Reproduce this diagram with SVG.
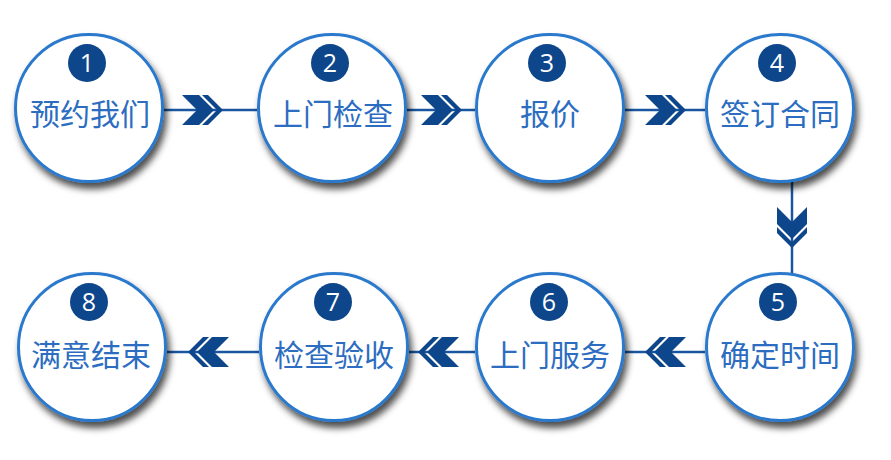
<svg xmlns="http://www.w3.org/2000/svg" xmlns:xlink="http://www.w3.org/1999/xlink" width="891" height="460" viewBox="0 0 891 460">
  <style>
    .ring { fill: #ffffff; stroke: #2a79cc; stroke-width: 3; filter: url(#shadow); }
    .badge { fill: #0d468b; }
    .num { fill: #ffffff; font-family: "Open Sans", "Liberation Sans", sans-serif; font-size: 25px; text-anchor: middle; }
    .label { fill: #2c6dc1; font-family: "Noto Sans CJK SC", "Noto Sans", sans-serif; font-size: 30px; text-anchor: middle; }
    .line { stroke: #1a559f; stroke-width: 2.5; fill: none; }
    .chev { fill: #0d468b; }
  </style>
  <defs>
    <filter id="shadow" x="-20%" y="-20%" width="150%" height="150%">
      <feDropShadow dx="3" dy="6" stdDeviation="3.5" flood-color="#000000" flood-opacity="0.7"/>
    </filter>
    <g id="chevrons">
      <path class="chev" d="M0,-15 L17,-15 L32,0 L17,15 L0,15 L15,0 Z"/>
      <path class="chev" d="M20,-15 L26,-15 L41,0 L26,15 L20,15 L35,0 Z"/>
    </g>
  </defs>

  <g id="connectors">
    <line class="line" x1="164" y1="110" x2="257" y2="110"/>
    <line class="line" x1="407" y1="110" x2="475" y2="110"/>
    <line class="line" x1="625" y1="110" x2="705" y2="110"/>
    <line class="line" x1="792" y1="181" x2="792" y2="274"/>
    <line class="line" x1="625" y1="352" x2="705" y2="352"/>
    <line class="line" x1="409" y1="352" x2="475" y2="352"/>
    <line class="line" x1="167" y1="352" x2="259" y2="352"/>
    <use xlink:href="#chevrons" transform="translate(182,110)"/>
    <use xlink:href="#chevrons" transform="translate(421,110)"/>
    <use xlink:href="#chevrons" transform="translate(645,110)"/>
    <use xlink:href="#chevrons" transform="translate(792,207) rotate(90)"/>
    <use xlink:href="#chevrons" transform="translate(686,352) scale(-1,1)"/>
    <use xlink:href="#chevrons" transform="translate(459,352) scale(-1,1)"/>
    <use xlink:href="#chevrons" transform="translate(229,352) scale(-1,1)"/>
  </g>

  <g id="node1">
    <circle class="ring" cx="89" cy="108" r="73.5"/>
    <circle class="badge" cx="87" cy="63" r="19"/>
    <text class="num" x="87" y="72">1</text>
    <text class="label" x="90" y="125">预约我们</text>
  </g>
  <g id="node2">
    <circle class="ring" cx="332" cy="108" r="73.5"/>
    <circle class="badge" cx="330" cy="63" r="19"/>
    <text class="num" x="330" y="72">2</text>
    <text class="label" x="333" y="125">上门检查</text>
  </g>
  <g id="node3">
    <circle class="ring" cx="550" cy="108" r="73.5"/>
    <circle class="badge" cx="547" cy="63" r="19"/>
    <text class="num" x="547" y="72">3</text>
    <text class="label" x="550" y="125">报价</text>
  </g>
  <g id="node4">
    <circle class="ring" cx="780" cy="108" r="73.5"/>
    <circle class="badge" cx="777" cy="63" r="19"/>
    <text class="num" x="777" y="72">4</text>
    <text class="label" x="780" y="125">签订合同</text>
  </g>
  <g id="node5">
    <circle class="ring" cx="780" cy="347" r="73.5"/>
    <circle class="badge" cx="778" cy="302" r="19"/>
    <text class="num" x="778" y="311">5</text>
    <text class="label" x="780" y="366">确定时间</text>
  </g>
  <g id="node6">
    <circle class="ring" cx="550" cy="347" r="73.5"/>
    <circle class="badge" cx="549" cy="302" r="19"/>
    <text class="num" x="549" y="311">6</text>
    <text class="label" x="550" y="366">上门服务</text>
  </g>
  <g id="node7">
    <circle class="ring" cx="334" cy="347" r="73.5"/>
    <circle class="badge" cx="333" cy="302" r="19"/>
    <text class="num" x="333" y="311">7</text>
    <text class="label" x="334" y="366">检查验收</text>
  </g>
  <g id="node8">
    <circle class="ring" cx="92" cy="347" r="73.5"/>
    <circle class="badge" cx="89" cy="302" r="19"/>
    <text class="num" x="89" y="311">8</text>
    <text class="label" x="91" y="366">满意结束</text>
  </g>
</svg>
